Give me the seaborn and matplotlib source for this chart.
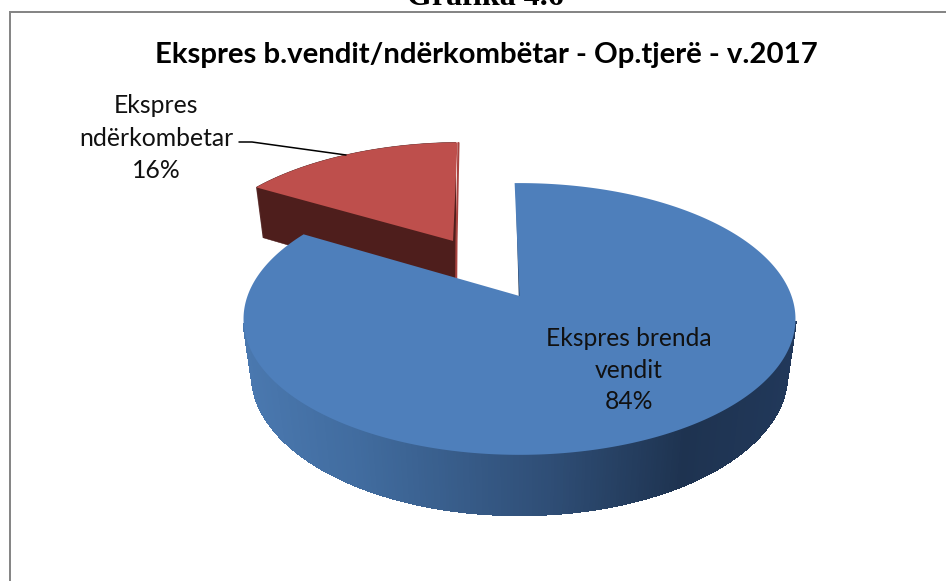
import numpy as np
import seaborn as sns
import matplotlib
matplotlib.use("Agg")
import matplotlib.pyplot as plt
from matplotlib.collections import PolyCollection
from matplotlib.colors import LinearSegmentedColormap
from matplotlib.patches import Rectangle
from matplotlib.path import Path
from matplotlib.transforms import Transform

# ---- data ----
categories = ["Ekspres brenda\nvendit", "Ekspres\nndërkombetar"]
shares = [83.8, 16.2]
heading = "Grafika 4.6"
title = "Ekspres b.vendit/ndërkombëtar - Op.tjerë - v.2017"

# ---- style ----
sns.set_theme(style="white")
plt.rcParams["font.family"] = ["Lato", "DejaVu Sans"]
face_colors = sns.color_palette(["#4E7FBB", "#BE4F4C"])
red_wall = "#4E1E1C"
wall_cmap = LinearSegmentedColormap.from_list(
    "wall", [(0, "#4A78AF"), (0.2, "#416C9F"), (0.55, "#2F4E76"),
             (0.8, "#1E3350"), (1, "#21385A")])

# ---- perspective of the tilted pie ----
CX, CY = 519.5, 296
A, B, K, M, D = 272, 132, 0.169, 0.03, 56.6


def project(x, y, z=0.0):
    w = 1 + K * y + M * z
    return CX + A * x / w, CY - (B * y - D * z) / w


class Tilt(Transform):
    input_dims = output_dims = 2
    is_separable = False
    has_inverse = False

    def __init__(self, z=0.0):
        super().__init__()
        self.z = z

    def transform_non_affine(self, xy):
        xy = np.asarray(xy, dtype=float)
        return np.column_stack(project(xy[:, 0], xy[:, 1], self.z))

    def transform_path_non_affine(self, path):
        pts = []
        for seg, code in path.iter_bezier():
            if code == Path.MOVETO:
                pts.append(seg.control_points)
            else:
                pts.append(seg(np.linspace(0, 1, 25))[1:])
        return Path(self.transform_non_affine(np.vstack(pts)))


fig = plt.figure(figsize=(9.46, 5.81), dpi=100, facecolor="white")
ax = fig.add_axes([0, 0, 1, 1])

EXPLODE = [0, 0.52]
START = 91.2


def draw_pie(z, colors, zorder):
    wedges, _ = ax.pie(shares, colors=colors, explode=EXPLODE, startangle=START,
                       counterclock=False, radius=1,
                       wedgeprops=dict(linewidth=0.4, edgecolor="none"))
    for w in wedges:
        w.set_transform(Tilt(z) + ax.transData)
        w.set_zorder(zorder)
    return wedges


# red slice wall: stacked layers, only the red wedge kept, cut at the slice's right edge
wall_clip = Rectangle((0, 0), 455.5, 581, transform=ax.transData)
for i, z in enumerate(np.linspace(1, 0, 60)):
    ws = draw_pie(z, ["none", red_wall], 2 + i * 0.001)
    ws[1].set_edgecolor(red_wall)
    ws[1].set_clip_on(True)
    ws[1].set_clip_path(wall_clip)
    ws[0].remove()

# top faces
top = draw_pie(0, list(face_colors), 5)
top[1].set_zorder(3)

# thin lit strip on the right cut of the red slice
ax.plot([458.5, 456.5, 456.2], [143, 241, 279], color="#A8433F", lw=1.5, zorder=3.5)

# blue wall: quads along the visible front of the outer arc, shaded by position
theta = np.radians(np.linspace(top[0].theta1, top[0].theta2, 541))
polys, shade = [], []
for t0, t1 in zip(theta[:-1], theta[1:]):
    x0, y0 = np.cos(t0), np.sin(t0)
    x1, y1 = np.cos(t1), np.sin(t1)
    if y0 > -0.2:
        continue
    polys.append([project(x0, y0, 0), project(x1, y1, 0),
                  project(x1, y1, 1), project(x0, y0, 1)])
    shade.append(project(x0, y0, 0)[0])
shade = (np.array(shade) - 245) / (797 - 245)
wall = PolyCollection(polys, facecolors=wall_cmap(shade),
                      edgecolors=wall_cmap(shade), linewidths=1.0,
                      antialiaseds=False, zorder=4)
ax.add_collection(wall)

# dark sliver along the vertical cut of the blue slice
ax.plot([516.5, 519.5], [190, 296], color="#1E3350", lw=1.1, zorder=4.5)

# leader line
ax.plot([239, 252, 346], [142, 142, 155], color="black", lw=1.1, zorder=6)

# frame of the chart object
ax.plot([10, 10, 946], [581, 11.5, 11.5], color="#868686", lw=1.44, zorder=1,
        solid_joinstyle="miter")

ax.set_xlim(0, 946)
ax.set_ylim(581, 0)
ax.set_aspect("auto")
ax.set_axis_off()

ax.text(485, 5, heading, ha="center", va="baseline", fontsize=23,
        fontweight="bold", family="Liberation Serif", color="black", clip_on=True)
ax.text(486, 55, title, ha="center", va="center", fontsize=21.2,
        fontweight="bold", color="black")
ax.text(629, 370, f"{categories[0]}\n{shares[0]:.0f}%", ha="center", va="center",
        fontsize=17.7, linespacing=1.45, color="#111111", zorder=7)
ax.text(156, 138, f"{categories[1]}\n{shares[1]:.0f}%", ha="center", va="center",
        fontsize=17.8, linespacing=1.5, color="#111111", zorder=7)

fig.savefig("out.png", dpi=100)
